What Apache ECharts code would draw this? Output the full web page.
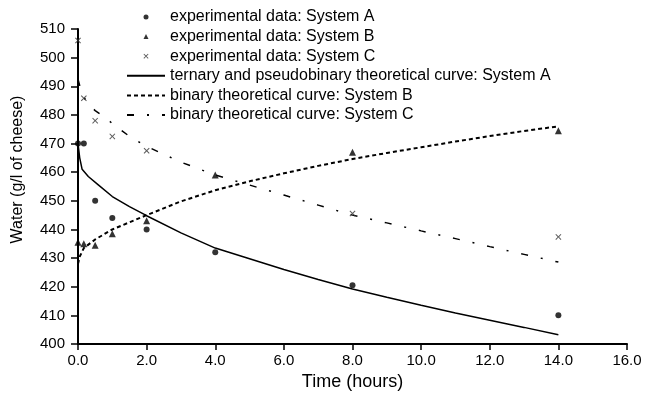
<!DOCTYPE html>
<html>
<head>
<meta charset="utf-8">
<script src="https://cdn.jsdelivr.net/npm/echarts@6/dist/echarts.min.js"></script>
<style>
  html, body { margin: 0; padding: 0; background: #fff; }
  #chart { width: 645px; height: 397px; }
</style>
</head>
<body>
<div id="chart"></div>
<script>
const timeAB = [0, 0.17, 0.5, 1, 2, 4, 8, 14];
const expA = [470, 470, 450, 444, 440, 432, 420.5, 410];
const expB = [435.5, 435, 434.5, 438.5, 443, 459, 467, 474.5];
const timeC = [0, 0.17, 0.5, 1, 2, 8, 14];
const expC = [506, 485.8, 478, 472.5, 467.5, 445.6, 437.4];

// Theoretical curves
const curveTimeA = [0, 0.05, 0.12, 0.3, 0.6, 1, 1.5, 2, 3, 4, 5, 6, 7, 8, 9, 10, 11, 12, 13, 14];
const curveA = [470, 465, 461, 458.5, 455.5, 451.5, 448, 444.8, 438.8, 433.5, 429.8, 426, 422.5, 419.2, 416.3, 413.5, 410.8, 408.3, 405.8, 403.2];
const curveTimeB = [0, 0.05, 0.17, 0.5, 1, 1.5, 2, 3, 4, 5, 6, 7, 8, 9, 10, 11, 12, 13, 14];
const curveB = [428, 430.5, 433.5, 436.5, 440, 442.5, 445, 449.8, 453.7, 456.8, 459.6, 462.2, 464.6, 466.7, 468.7, 470.7, 472.6, 474.4, 476];
const curveTimeC = [0, 0.1, 0.25, 0.5, 0.75, 1, 1.5, 2, 3, 4, 5, 6, 7, 8, 9, 10, 11, 12, 13, 14];
const curveC = [492.5, 488, 484.5, 481.5, 479.5, 477, 472.5, 469, 463.5, 459, 455.5, 452, 448.5, 445, 442.3, 439.5, 436.8, 434, 431.3, 428.6];

const names = [
  'experimental data: System A',
  'experimental data: System B',
  'experimental data: System C',
  'ternary and pseudobinary theoretical curve: System A',
  'binary theoretical curve: System B',
  'binary theoretical curve: System C'
];

const font = "'Liberation Sans', Arial, sans-serif";
const crossPath = 'path://M0,12 L12,0 L50,38 L88,0 L100,12 L62,50 L100,88 L88,100 L50,62 L12,100 L0,88 L38,50 Z';
const trianglePath = 'path://M50,0 L100,100 L0,100 Z';

function pairs(xs, ys) {
  return xs.map((x, i) => [x, ys[i]]);
}

// line items in the legend: hide the little symbol, keep the line sample
const hiddenSymbol = { opacity: 0 };

const chart = echarts.init(document.getElementById('chart'));

chart.setOption({
  animation: false,
  backgroundColor: '#fff',
  textStyle: { fontFamily: font, color: '#000' },
  grid: { left: 78, right: 18, top: 29, bottom: 53 },
  legend: {
    orient: 'vertical',
    left: 126,
    top: 8,
    padding: 0,
    itemWidth: 38,
    itemHeight: 5,
    itemGap: 1.6,
    selectedMode: false,
    symbolKeepAspect: true,
    textStyle: { fontFamily: font, fontSize: 16, lineHeight: 18, color: '#000' },
    data: [
      { name: names[0] },
      { name: names[1], icon: trianglePath },
      { name: names[2] },
      { name: names[3], itemStyle: hiddenSymbol },
      { name: names[4], itemStyle: hiddenSymbol },
      { name: names[5], itemStyle: hiddenSymbol }
    ]
  },
  xAxis: {
    type: 'value',
    min: 0,
    max: 16,
    interval: 2,
    name: 'Time (hours)',
    nameLocation: 'middle',
    nameGap: 29,
    nameTextStyle: { fontFamily: font, fontSize: 18, color: '#000' },
    axisLine: { lineStyle: { color: '#000', width: 2 } },
    axisTick: { length: 6, lineStyle: { color: '#000', width: 1.5 } },
    axisLabel: {
      margin: 9,
      fontFamily: font,
      fontSize: 15,
      color: '#000',
      formatter: v => v.toFixed(1)
    },
    splitLine: { show: false }
  },
  yAxis: {
    type: 'value',
    min: 400,
    max: 510,
    interval: 10,
    name: 'Water (g/l of cheese)',
    nameLocation: 'middle',
    nameGap: 52,
    nameTextStyle: { fontFamily: font, fontSize: 16, color: '#000', padding: [0, 0, 0, 34] },
    axisLine: { show: true, lineStyle: { color: '#000', width: 2 } },
    axisTick: { show: true, length: 7, lineStyle: { color: '#000', width: 1.5 } },
    axisLabel: { margin: 13, fontFamily: font, fontSize: 15, color: '#000' },
    splitLine: { show: false }
  },
  series: [
    {
      name: names[0],
      type: 'scatter',
      symbol: 'circle',
      symbolSize: 6,
      itemStyle: { color: '#000' },
      data: pairs(timeAB, expA),
      z: 5
    },
    {
      name: names[1],
      type: 'scatter',
      symbol: 'triangle',
      symbolSize: 7,
      itemStyle: { color: '#000' },
      data: pairs(timeAB, expB),
      z: 5
    },
    {
      name: names[2],
      type: 'scatter',
      symbol: crossPath,
      symbolSize: 6,
      itemStyle: { color: '#333' },
      data: pairs(timeC, expC),
      z: 5
    },
    {
      name: names[3],
      type: 'line',
      symbol: 'none',
      lineStyle: { color: '#000', width: 1.5, type: 'solid' },
      itemStyle: { color: '#000' },
      data: pairs(curveTimeA, curveA)
    },
    {
      name: names[4],
      type: 'line',
      symbol: 'none',
      lineStyle: { color: '#000', width: 2, type: [4, 3] },
      itemStyle: { color: '#000' },
      data: pairs(curveTimeB, curveB)
    },
    {
      name: names[5],
      type: 'line',
      symbol: 'none',
      lineStyle: { color: '#000', width: 1.5, type: [7, 13, 2, 13] },
      itemStyle: { color: '#000' },
      data: pairs(curveTimeC, curveC)
    }
  ]
});
</script>
</body>
</html>
